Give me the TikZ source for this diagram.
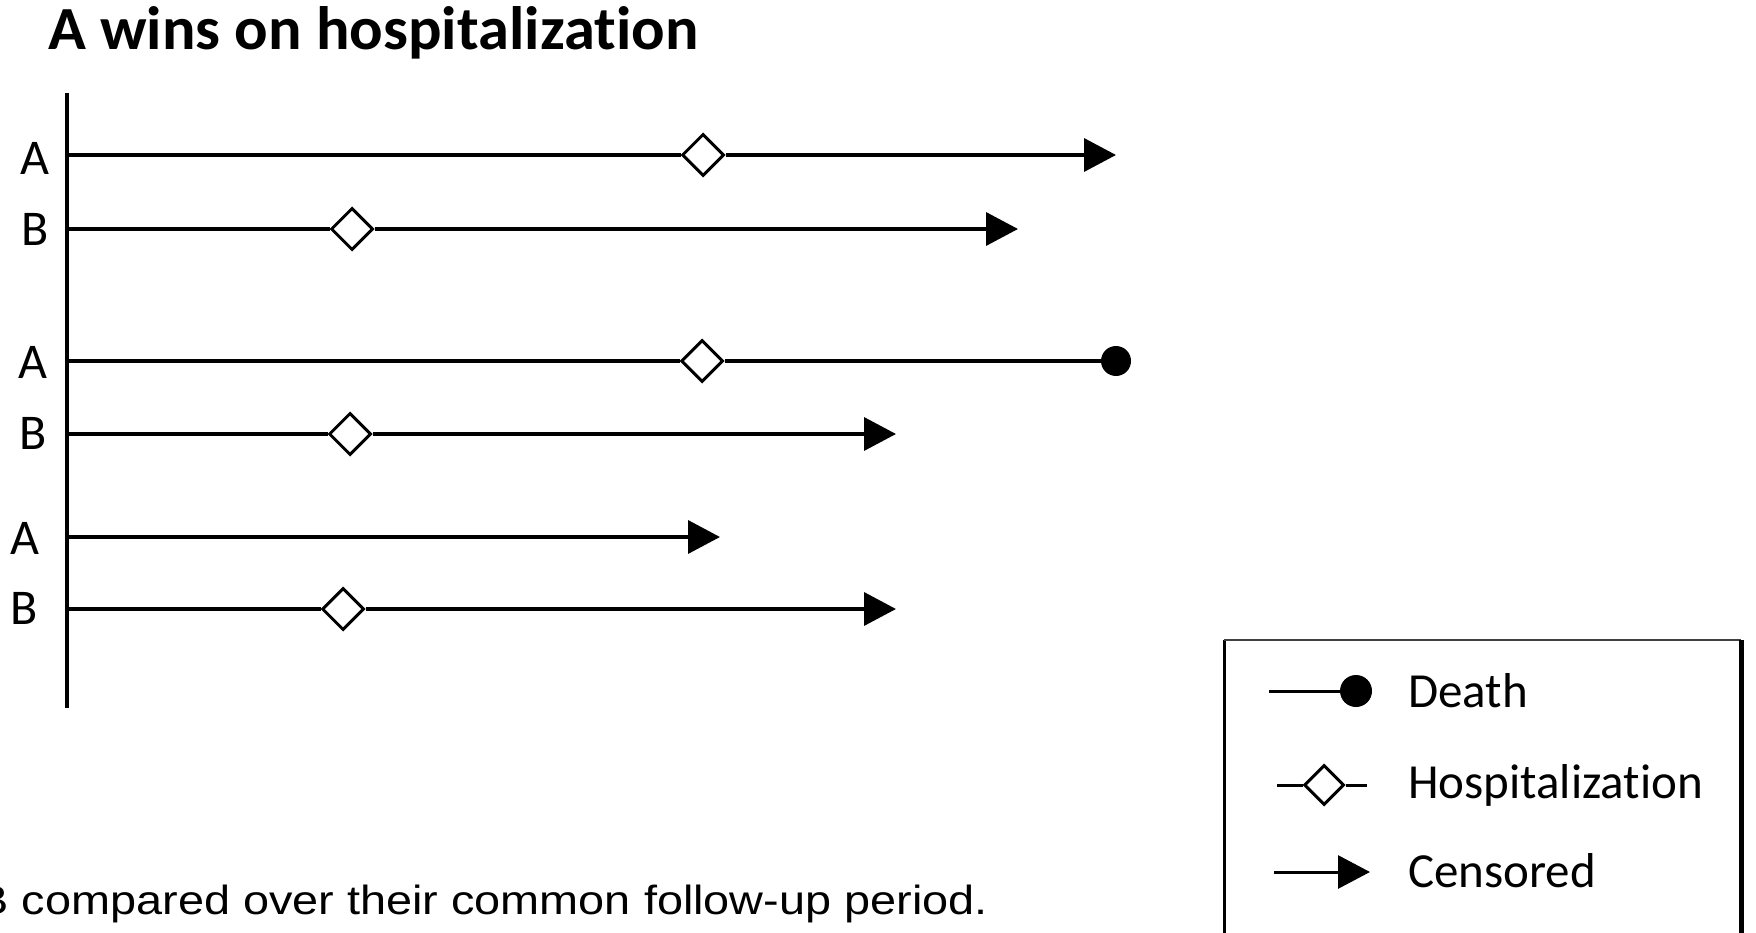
\documentclass[tikz,border=0pt]{standalone}
\usepackage{fontspec}
\setmainfont{Carlito}[Ligatures=NoCommon]
\newfontfamily\bodyfont{Liberation Sans}
\usetikzlibrary{arrows.meta,shapes.geometric}
\begin{document}
\begin{tikzpicture}[x=1pt,y=-1pt,
  track/.style={line width=3.6pt, line cap=butt},
  cens/.style={track, -{Triangle[length=32pt,width=33pt]}},
  hosp/.style={diamond, draw, fill=white, line width=3pt, inner sep=0pt, minimum size=42pt},
  death/.style={circle, fill=black, inner sep=0pt, minimum size=30pt},
  lab/.style={inner sep=0pt, font=\fontsize{50}{50}\selectfont},
  legtext/.style={anchor=base west, inner sep=0pt, font=\fontsize{49}{49}\selectfont},
]
\useasboundingbox (0,0) rectangle (1756,933);
\fill[white] (0,0) rectangle (1756,933);

% title
\node[anchor=base west, inner sep=0pt] (title) at (48,50) {\resizebox{650pt}{43pt}{\bfseries\fontsize{60}{60}\selectfont A wins on hospitalization}};

% axis
\coordinate (axtop) at (67,93);
\coordinate (axbot) at (67,708);
\draw[line width=3.2pt] (axtop) -- (axbot);

% row 1
\coordinate (a1s) at (67,155);
\node[hosp] (a1h) at (703,155) {};
\coordinate (a1e) at (1116,155);
\draw[track] (a1s) -- (a1h);
\draw[cens] (a1h) -- (a1e);
\coordinate (b1s) at (67,229);
\node[hosp] (b1h) at (352,229) {};
\coordinate (b1e) at (1018,229);
\draw[track] (b1s) -- (b1h);
\draw[cens] (b1h) -- (b1e);

% row 2
\coordinate (a2s) at (67,361);
\node[hosp] (a2h) at (702,361) {};
\node[death] (a2d) at (1116,361) {};
\draw[track] (a2s) -- (a2h);
\draw[track] (a2h) -- (a2d);
\coordinate (b2s) at (67,434);
\node[hosp] (b2h) at (350,434) {};
\coordinate (b2e) at (896,434);
\draw[track] (b2s) -- (b2h);
\draw[cens] (b2h) -- (b2e);

% row 3
\coordinate (a3s) at (67,537);
\coordinate (a3e) at (720,537);
\draw[cens] (a3s) -- (a3e);
\coordinate (b3s) at (67,609);
\node[hosp] (b3h) at (343,609) {};
\coordinate (b3e) at (896,609);
\draw[track] (b3s) -- (b3h);
\draw[cens] (b3h) -- (b3e);

% labels
\node[lab] (la1) at (35,158) {A};
\node[lab] (lb1) at (35,229) {B};
\node[lab] (la2) at (33,362) {A};
\node[lab] (lb2) at (33,433) {B};
\node[lab] (la3) at (25,538) {A};
\node[lab] (lb3) at (24,608) {B};

% legend box
\coordinate (lbl) at (1224,945);
\coordinate (ltl) at (1224,640);
\coordinate (ltr) at (1741,640);
\coordinate (lbr) at (1741,945);
\draw[line width=3pt] (lbl) -- (ltl);
\draw[line width=2pt, black!75] (ltl) -- (ltr);
\draw[line width=5pt] (ltr) -- (lbr);

% legend items
\coordinate (ld0) at (1269,691);
\node[death, minimum size=32pt] (ld1) at (1356,691) {};
\draw[track, line width=3pt] (ld0) -- (ld1);
\coordinate (lh0) at (1277,785);
\node[hosp, minimum size=40pt] (lh1) at (1324,785) {};
\coordinate (lh2) at (1367,785);
\draw[track, line width=3pt] (lh0) -- (lh1);
\draw[track, line width=3pt] (lh1) -- (lh2);
\coordinate (lc0) at (1274,872);
\coordinate (lc1) at (1370,872);
\draw[cens, line width=3pt] (lc0) -- (lc1);
\node[legtext] (tdeath) at (1408,707) {Death};
\node[legtext] (thosp) at (1408,798) {Hospitalization};
\node[legtext] (tcens) at (1408,887) {Censored};

% bottom note
\node[anchor=base east, inner sep=0pt] (note) at (988,914) {\resizebox{1010pt}{29.5pt}{\bodyfont\fontsize{40}{40}\selectfont B compared over their common follow-up period.}};
\end{tikzpicture}
\end{document}
